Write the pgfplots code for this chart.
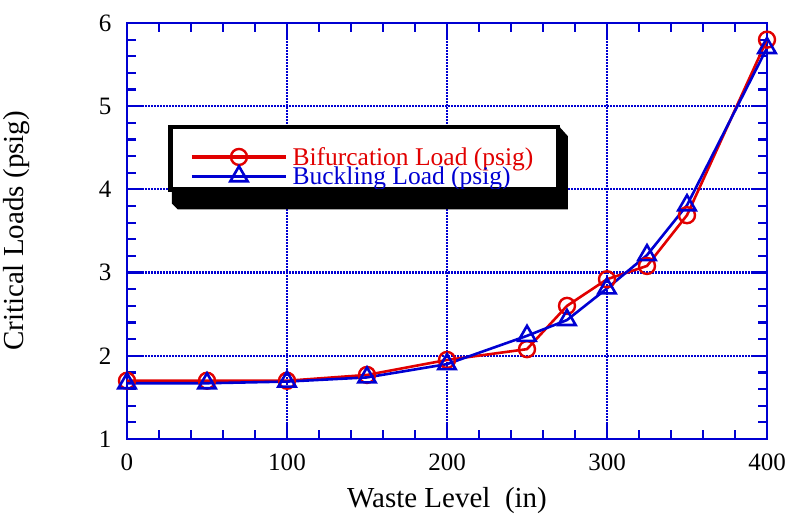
\documentclass[border=0pt]{standalone}
\usepackage{pgfplots}
\pgfplotsset{compat=1.18}
\usepackage{fontspec}
\setmainfont{Liberation Serif}
\usetikzlibrary{calc}
\definecolor{cred}{RGB}{225,0,0}
\definecolor{cblue}{RGB}{0,0,210}
\begin{document}
\begin{tikzpicture}
\begin{axis}[
  scale only axis,
  width=640pt, height=416pt,
  xmin=0, xmax=400, ymin=1, ymax=6,
  xtick={0,100,...,400}, ytick={1,2,...,6},
  minor x tick num=4, minor y tick num=4,
  major tick length=16pt, minor tick length=9pt,
  tick align=inside,
  axis line style={cblue, line width=2.6pt},
  every tick/.style={cblue, line width=2.2pt},
  grid=major,
  major grid style={cblue, line width=2.2pt, dash pattern=on 1.6pt off 1.4pt},
  /pgf/number format/assume math mode=true,
  tick label style={font=\fontsize{25}{28}\selectfont},
  xticklabel style={yshift=-11pt},
  yticklabel style={xshift=-12pt},
  label style={font=\fontsize{29}{32}\selectfont},
  xlabel={Waste Level\ \ (in)},
  ylabel={Critical Loads (psig)},
  xlabel style={yshift=-10pt},
  ylabel style={yshift=62pt},
  clip=false,
  legend style={at={(0.067,0.752)}, anchor=north west, draw=black, line width=3pt,
    name=leg,
    fill=white, font=\fontsize{25.5}{27}\selectfont, row sep=-6pt,
    inner xsep=19pt, inner ysep=0pt,
    nodes={inner xsep=5pt, inner ysep=3pt}},
  legend cell align=left,
  legend image code/.code={\draw[mark repeat=2,mark phase=2,#1,line width=3.2pt] plot coordinates {(0pt,0pt)(47pt,0pt)(94pt,0pt)};},
]
\addplot[cred, line width=2.6pt, mark=o, mark size=8pt, mark options={line width=2.4pt},
  legend image code/.code={\path (0pt,28pt); \draw[mark repeat=2,mark phase=2,##1,line width=3.2pt] plot coordinates {(0pt,0pt)(47pt,0pt)(94pt,0pt)};}] coordinates {
(0,1.70)(50,1.70)(100,1.70)(150,1.77)(200,1.95)(250,2.08)(275,2.60)(300,2.92)(325,3.08)(350,3.69)(400,5.80)};
\addlegendentry{\textcolor{cred}{Bifurcation Load (psig)}}
\addplot[cblue, line width=2.6pt, mark=triangle, mark size=10pt, mark options={line width=2.6pt}] coordinates {
(0,1.67)(50,1.67)(100,1.69)(150,1.74)(200,1.90)(250,2.24)(275,2.43)(300,2.81)(325,3.21)(350,3.81)(400,5.70)};
\addlegendentry{\textcolor{cblue}{Buckling Load (psig)}}
\end{axis}
\draw[black, line width=3pt] (leg.south west) rectangle (leg.north east);
\fill[black] (leg.north east) -- ++(9pt,-10pt) -- ($(leg.east|-leg.south)+(9pt,-19pt)$)
  -- ($(leg.south west)+(8pt,-19pt)$) -- ($(leg.south west)+(2pt,-13pt)$)
  -- ($(leg.south west)+(2pt,0pt)$) -- (leg.south east) -- cycle;
\pgfresetboundingbox
\path ($(current axis.south west)+(-127pt,-75pt)$) rectangle ($(current axis.north east)+(22pt,23pt)$);
\end{tikzpicture}
\end{document}
